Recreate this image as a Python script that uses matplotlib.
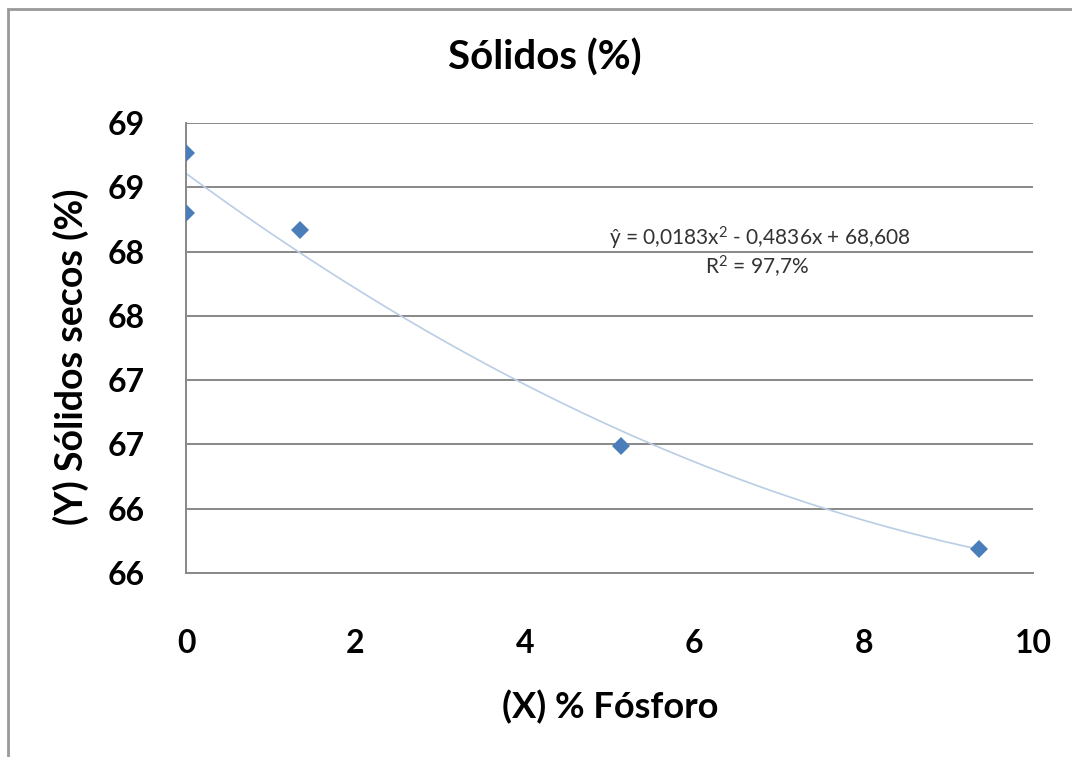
import math
import matplotlib
matplotlib.use("Agg")
import matplotlib.pyplot as plt
import numpy as np
from matplotlib.patches import Rectangle
from matplotlib.ticker import FuncFormatter, MultipleLocator

# datos: % fósforo vs sólidos secos
fosforo = [0.0, 0.0, 1.35, 5.13, 9.36]
solidos = [68.77, 68.30, 68.17, 66.49, 65.69]

# ajuste polinómico de orden 2 (a, b, c) y R²
coef = [0.0183, -0.4836, 68.608]
r2 = 97.7

plt.rcParams['font.family'] = ['Lato', 'DejaVu Sans']

W, H = 1072, 757
fig = plt.figure(figsize=(W / 100, H / 100), dpi=100)
ax = fig.add_axes([186 / W, 1 - 573 / H, (1033 - 186) / W, (573 - 123) / H])

# línea de tendencia
xs = np.linspace(0, max(fosforo), 200)
ax.plot(xs, np.polyval(coef, xs), color='#b9cde5', lw=1.2, zorder=2)

ax.plot(fosforo, solidos, 'D', color='#4a7ebb', markersize=9.5,
        markeredgewidth=0, zorder=3)

ax.set_xlim(0, 10)
ax.set_ylim(65.5, 69)
ax.xaxis.set_major_locator(MultipleLocator(2))
ax.yaxis.set_major_locator(MultipleLocator(0.5))
# redondeo como en Excel (0,5 hacia arriba)
ax.yaxis.set_major_formatter(FuncFormatter(lambda v, p: '%d' % math.floor(v + 0.5)))

ax.grid(axis='y', color='#888888', lw=1.4)
ax.set_axisbelow(True)
for s in ['top', 'right']:
    ax.spines[s].set_visible(False)
ax.spines['left'].set_color('#888888')
ax.spines['bottom'].set_color('#888888')
ax.spines['left'].set_linewidth(1.4)
ax.spines['bottom'].set_linewidth(1.4)
ax.tick_params(axis='both', length=0, labelsize=23)
ax.tick_params(axis='y', pad=30)
ax.tick_params(axis='x', pad=40)
for lab in ax.get_xticklabels() + ax.get_yticklabels():
    lab.set_fontweight('bold')

a, b, c = coef
eq = ('ŷ = %s$\\mathregular{x^2}$ - %s$\\mathregular{x}$ + %s'
      % (('%.4f' % a).replace('.', ','), ('%.4f' % -b).replace('.', ','),
         ('%.3f' % c).replace('.', ',')))
ax.text(6.78, 68.1, eq, ha='center', va='center', fontsize=15, color='#333333')
ax.text(6.74, 67.88, 'R$\\mathregular{^2}$ = %s%%' % ('%.1f' % r2).replace('.', ','),
        ha='center', va='center', fontsize=15, color='#333333')

fig.text(545 / W, 1 - 58 / H, 'Sólidos (%)', ha='center', va='center',
         fontsize=29, fontweight='bold')
fig.text(610 / W, 1 - 707 / H, '(X) % Fósforo', ha='center', va='center',
         fontsize=26, fontweight='bold')
fig.text(71 / W, 1 - 357 / H, '(Y) Sólidos secos (%)', ha='center', va='center',
         rotation=90, fontsize=27, fontweight='bold')

# marco exterior del gráfico
fig.add_artist(Rectangle((8 / W, -0.1), 1.2, 1.1 - 9 / H, transform=fig.transFigure,
                         fill=False, edgecolor='#999999', lw=2))

fig.savefig('out.png', dpi=100)
